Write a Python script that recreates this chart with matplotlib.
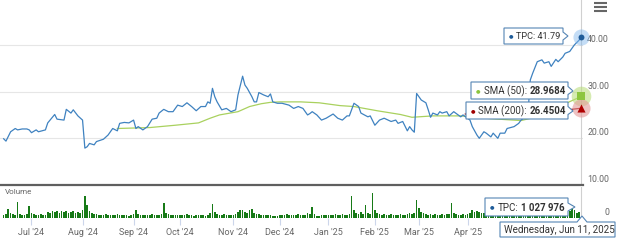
import matplotlib
matplotlib.use('Agg')
import matplotlib.pyplot as plt
import pandas as pd
from matplotlib.patches import Polygon

plt.rcParams['font.family'] = ['Roboto', 'DejaVu Sans']

W, H = 620, 243

# market holidays (no trading day on the ordinal axis)
holidays = ['2024-06-19', '2024-07-04', '2024-09-02', '2024-11-28', '2024-12-25',
            '2025-01-01', '2025-01-09', '2025-01-20', '2025-02-17', '2025-04-18',
            '2025-05-26']

# TPC close
price_points = [
    ('2024-06-12', 19.9), ('2024-06-13', 19.4), ('2024-06-17', 21.4), ('2024-06-20', 22.1),
    ('2024-06-21', 21.8), ('2024-06-25', 22.0), ('2024-06-27', 22.0), ('2024-06-28', 21.8),
    ('2024-07-01', 21.2), ('2024-07-03', 21.8), ('2024-07-05', 21.4), ('2024-07-10', 21.8),
    ('2024-07-11', 23.3), ('2024-07-16', 25.1), ('2024-07-17', 24.1), ('2024-07-22', 23.9),
    ('2024-07-23', 26.2), ('2024-07-25', 25.4), ('2024-07-26', 26.1), ('2024-07-30', 24.8),
    ('2024-08-01', 23.9), ('2024-08-02', 17.9), ('2024-08-05', 18.2), ('2024-08-06', 18.9),
    ('2024-08-08', 18.6), ('2024-08-09', 19.3), ('2024-08-14', 19.8), ('2024-08-16', 20.7),
    ('2024-08-20', 22.1), ('2024-08-22', 21.6), ('2024-08-23', 23.2), ('2024-08-27', 23.4),
    ('2024-08-29', 23.3),
    ('2024-09-03', 23.9), ('2024-09-04', 22.1), ('2024-09-05', 22.5), ('2024-09-09', 21.8),
    ('2024-09-11', 22.5), ('2024-09-13', 24.1), ('2024-09-17', 24.3), ('2024-09-18', 25.4),
    ('2024-09-20', 26.2), ('2024-09-24', 25.7), ('2024-09-26', 25.7), ('2024-09-30', 27.1),
    ('2024-10-02', 26.8), ('2024-10-04', 27.6), ('2024-10-08', 26.8), ('2024-10-10', 25.9),
    ('2024-10-14', 26.8), ('2024-10-16', 26.8), ('2024-10-17', 27.8), ('2024-10-18', 27.5),
    ('2024-10-21', 30.7), ('2024-10-22', 28.9), ('2024-10-23', 27.8), ('2024-10-25', 26.1),
    ('2024-10-29', 26.4), ('2024-10-31', 25.7),
    ('2024-11-04', 26.1), ('2024-11-05', 29.3), ('2024-11-07', 33.3), ('2024-11-08', 31.4),
    ('2024-11-11', 30.7), ('2024-11-13', 28.9), ('2024-11-14', 27.8), ('2024-11-15', 27.8),
    ('2024-11-18', 29.8), ('2024-11-20', 29.3), ('2024-11-22', 28.9), ('2024-11-25', 29.5),
    ('2024-11-26', 27.8), ('2024-11-29', 27.5),
    ('2024-12-03', 27.5), ('2024-12-06', 27.1), ('2024-12-10', 26.4), ('2024-12-12', 26.8),
    ('2024-12-16', 26.4), ('2024-12-18', 25.0), ('2024-12-19', 25.3), ('2024-12-20', 25.7),
    ('2024-12-24', 25.0), ('2024-12-27', 23.9), ('2024-12-31', 24.3),
    ('2025-01-06', 25.2), ('2025-01-08', 24.3), ('2025-01-13', 23.9), ('2025-01-15', 24.8),
    ('2025-01-16', 24.8), ('2025-01-21', 27.5), ('2025-01-23', 26.8), ('2025-01-24', 25.4),
    ('2025-01-29', 24.6), ('2025-01-30', 24.8),
    ('2025-02-03', 22.8), ('2025-02-05', 23.9), ('2025-02-07', 24.3), ('2025-02-12', 23.6),
    ('2025-02-14', 23.9), ('2025-02-18', 23.2), ('2025-02-20', 23.6), ('2025-02-24', 21.6),
    ('2025-02-25', 22.5), ('2025-02-26', 21.8), ('2025-02-27', 21.3), ('2025-02-28', 29.6),
    ('2025-03-04', 28.2), ('2025-03-06', 27.6), ('2025-03-07', 26.1), ('2025-03-10', 24.5),
    ('2025-03-11', 25.4), ('2025-03-13', 25.0), ('2025-03-14', 25.7), ('2025-03-17', 25.4),
    ('2025-03-19', 25.7), ('2025-03-20', 24.8), ('2025-03-24', 25.7), ('2025-03-27', 24.6),
    ('2025-03-28', 25.0),
    ('2025-04-02', 23.9), ('2025-04-03', 22.5), ('2025-04-07', 20.7), ('2025-04-08', 20.0),
    ('2025-04-10', 21.4), ('2025-04-11', 21.1), ('2025-04-15', 20.3), ('2025-04-16', 21.1),
    ('2025-04-21', 20.0), ('2025-04-22', 21.1), ('2025-04-24', 21.1), ('2025-04-25', 22.1),
    ('2025-04-30', 22.5),
    ('2025-05-02', 23.2), ('2025-05-05', 23.9), ('2025-05-07', 24.6), ('2025-05-08', 25.4),
    ('2025-05-09', 32.5), ('2025-05-12', 33.9), ('2025-05-14', 36.4), ('2025-05-16', 36.8),
    ('2025-05-19', 36.1), ('2025-05-21', 36.4), ('2025-05-22', 35.4), ('2025-05-27', 36.9),
    ('2025-05-28', 36.4), ('2025-05-30', 37.4),
    ('2025-06-02', 38.2), ('2025-06-04', 38.6), ('2025-06-05', 39.3), ('2025-06-06', 40.0),
    ('2025-06-10', 41.0), ('2025-06-11', 41.79),
]

sma50_points = [
    ('2024-08-22', 22.1), ('2024-09-12', 22.3), ('2024-09-27', 22.8), ('2024-10-11', 23.3),
    ('2024-10-18', 24.3), ('2024-10-24', 25.0), ('2024-11-05', 25.7), ('2024-11-12', 26.8),
    ('2024-11-19', 27.4), ('2024-11-25', 27.7), ('2024-12-02', 27.8), ('2024-12-13', 27.8),
    ('2024-12-26', 27.6), ('2025-01-10', 27.0), ('2025-01-21', 26.8), ('2025-02-04', 25.9),
    ('2025-02-19', 25.1), ('2025-02-26', 24.5), ('2025-03-11', 24.8), ('2025-03-27', 24.8),
    ('2025-04-15', 24.2), ('2025-05-05', 23.8), ('2025-05-13', 24.5), ('2025-05-21', 25.8),
    ('2025-06-02', 27.4), ('2025-06-11', 28.9684),
]

sma200_points = [
    ('2025-03-31', 25.2), ('2025-04-15', 25.1), ('2025-04-30', 25.0), ('2025-05-14', 25.3),
    ('2025-05-29', 25.9), ('2025-06-11', 26.4504),
]

# daily volume in millions, one per trading day from 2024-06-12
volume = [
    0.3, 0.4, 0.9, 0.5, 0.4, 0.35, 1.6, 0.4, 0.3, 0.35,
    0.4, 1.2, 0.5, 0.4, 0.3, 0.3, 0.4, 0.35, 0.3, 0.6,
    0.5, 0.7, 0.6, 0.7, 0.5, 0.7, 0.6, 0.7, 0.5, 0.6,
    0.7, 0.5, 0.6, 0.5, 0.8, 2.2, 1.3, 0.7, 0.5, 0.4,
    0.4, 0.35, 0.3, 0.35, 0.4, 0.3, 0.3, 0.35, 0.3, 0.4,
    0.3, 0.3, 0.35, 0.3, 0.25, 0.3, 0.4, 0.8, 0.4, 0.3,
    0.3, 0.3, 0.35, 0.3, 0.4, 0.35, 0.3, 0.3, 0.4, 1.5,
    0.5, 0.4, 0.3, 0.35, 0.3, 0.35, 0.3, 0.35, 0.3, 0.4,
    0.3, 0.3, 0.25, 0.3, 0.35, 0.3, 0.3, 0.25, 0.3, 0.5,
    1.4, 0.6, 0.4, 0.35, 0.3, 0.4, 0.35, 0.3, 0.3, 0.3,
    0.4, 0.6, 0.8, 0.8, 0.6, 0.5, 0.8, 0.9, 0.5, 0.4,
    0.4, 0.35, 0.3, 0.35, 0.3, 0.3, 0.25, 0.2, 0.2, 0.3,
    0.35, 0.3, 0.4, 0.3, 0.3, 0.35, 0.3, 0.4, 0.3, 0.35,
    0.3, 0.5, 0.4, 1.1, 0.4, 0.2, 0.25, 0.3, 0.3, 0.35,
    0.3, 0.35, 0.3, 0.4, 0.35, 0.3, 0.4, 0.3, 0.35, 0.4,
    2.2, 0.8, 0.5, 0.4, 0.6, 0.4, 1.3, 0.5, 0.4, 2.5,
    0.8, 0.5, 0.4, 0.35, 0.4, 0.3, 0.35, 0.4, 0.3, 0.35,
    0.3, 0.4, 0.35, 0.3, 0.4, 0.5, 0.4, 0.5, 1.8, 1.0,
    0.6, 0.5, 0.4, 0.35, 0.4, 0.3, 0.4, 0.35, 0.3, 0.4,
    0.35, 0.4, 0.4, 1.5, 0.5, 0.4, 0.3, 0.35, 0.4, 0.3,
    0.4, 0.5, 0.8, 0.6, 0.7, 0.6, 0.5, 0.5, 0.4, 0.5,
    0.4, 0.5, 0.4, 0.4, 0.5, 0.4, 0.4, 0.5, 0.4, 0.4,
    0.5, 0.5, 0.6, 0.6, 0.7, 0.6, 0.8, 1.9, 1.5, 1.0,
    0.9, 0.8, 0.7, 0.8, 0.7, 0.6, 0.7, 0.8, 0.6, 0.7,
    0.6, 0.8, 0.7, 0.6, 0.7, 1.3, 0.8, 0.5, 0.6, 1.027976,
]

price_ticks = [10, 20, 30, 40]
# May/Jun labels sit under the date tooltip in the original, so only these show
first_month, last_month = '2024-07', '2025-04'

# ordinal (trading day) axis like the original
days = pd.bdate_range('2024-06-12', '2025-06-11')
days = days[~days.isin(pd.to_datetime(holidays))]


def series(points):
    d, v = zip(*points)
    return days.get_indexer(pd.to_datetime(list(d))), list(v)


px, py = series(price_points)
s50x, s50y = series(sma50_points)
s200x, s200y = series(sma200_points)
vol_x = list(range(len(days)))[-len(volume):]

firsts = pd.Series(range(len(days)), index=days).groupby(days.to_period('M')).first()
firsts = firsts[(firsts.index >= pd.Period(first_month, 'M')) &
                (firsts.index <= pd.Period(last_month, 'M'))]
month_pos = list(firsts.values)
month_lab = [p.strftime("%b '%y") for p in firsts.index]

fig = plt.figure(figsize=(W / 100, H / 100), dpi=100)


def frac(x0, y0, x1, y1):
    return [x0 / W, 1 - y1 / H, (x1 - x0) / W, (y1 - y0) / H]


xlim = (-3.66 / 2.32, (583 - 3.66) / 2.32)
grey = '#666666'

# price panel
ax = fig.add_axes(frac(0, 0, 583, 185))
ax.set_xlim(*xlim)
ax.set_ylim(10, 10 + 185 / 4.67)
ax.set_yticks(price_ticks[1:])
ax.grid(axis='y', color='#e6e6e6', lw=0.8)
ax.tick_params(left=False, bottom=False, labelleft=False, labelbottom=False)
for s in ['top', 'left', 'right']:
    ax.spines[s].set_visible(False)
ax.spines['bottom'].set_color('#5f5f5f')
ax.spines['bottom'].set_linewidth(1.6)
for v in price_ticks:
    ax.annotate(f'{v:.2f}', xy=(1, v), xycoords=('axes fraction', 'data'),
                xytext=(26, 1), textcoords='offset pixels', ha='right', va='bottom',
                fontsize=6.3, color=grey, annotation_clip=False)

last = len(days) - 1
ax.axvline(last, color='#d0d0d0', lw=0.8)
ax.plot(s50x, s50y, color='#a9d15e', lw=0.9)
ax.plot(s200x, s200y, color='#a00000', lw=0.9)
ax.plot(px, py, color='#3f82c0', lw=0.9)

ax.scatter([last], [py[-1]], s=135, color='#7cb5ec', alpha=0.45, lw=0, clip_on=False, zorder=5)
ax.scatter([last], [py[-1]], s=18, color='#1f5c99', lw=0, clip_on=False, zorder=6)
ax.scatter([last], [s50y[-1]], s=200, color='#b5dc74', alpha=0.55, lw=0, clip_on=False, zorder=5)
ax.scatter([last], [s50y[-1]], s=38, marker='s', color='#8cc63e', lw=0, clip_on=False, zorder=6)
ax.scatter([last], [s200y[-1]], s=170, color='#e49a9a', alpha=0.6, lw=0, clip_on=False, zorder=5)
ax.scatter([last], [s200y[-1]], s=34, marker='^', color='#b00000', lw=0, clip_on=False, zorder=6)

# volume panel
axv = fig.add_axes(frac(0, 187, 583, 218))
axv.set_xlim(*xlim)
axv.set_ylim(0, 3.1)
axv.bar(vol_x, volume, width=0.7, color='#177a17', lw=0)
axv.axvline(last, color='#d0d0d0', lw=0.8)
for s in axv.spines.values():
    s.set_visible(False)
axv.set_yticks([])
axv.set_xticks(month_pos)
axv.set_xticklabels(month_lab)
axv.tick_params(axis='x', length=5, color='#ccd6eb', labelsize=6.5, labelcolor=grey, pad=2.5)
axv.annotate('0', xy=(1, 0), xycoords='axes fraction', xytext=(26, 1),
             textcoords='offset pixels', ha='right', va='bottom', fontsize=6.3, color=grey,
             annotation_clip=False)
axv.annotate('Volume', xy=(0, 1), xycoords='axes fraction', xytext=(5, -5),
             textcoords='offset pixels', ha='left', va='center', fontsize=5.8, color=grey)

# tooltips drawn in pixel space on top
ov = fig.add_axes([0, 0, 1, 1], zorder=10)
ov.set_xlim(0, W)
ov.set_ylim(H, 0)
ov.axis('off')
renderer = fig.canvas.get_renderer()


def callout(x0, x1, y0, y1, tip, parts, dot=None, notch_top=False, size=7):
    ym = (y0 + y1) / 2
    if notch_top:
        pts = [(x0, y0), (tip[0] - 5, y0), tip, (tip[0] + 5, y0), (x1, y0), (x1, y1), (x0, y1)]
    else:
        pts = [(x0, y0), (x1, y0), (x1, ym - 4), tip, (x1, ym + 4), (x1, y1), (x0, y1)]
    ov.add_patch(Polygon(pts, closed=True, fc='white', ec='#5585b5', lw=0.8, zorder=20))
    x = x0 + 4.5
    if dot:
        ov.text(x, ym, '\u25cf', color=dot, fontsize=3.8, va='center', ha='left', zorder=21)
        x += 8
    for txt, bold in parts:
        t = ov.text(x, ym + 0.5, txt, fontsize=size, color='#333333',
                    fontweight='bold' if bold else 'normal', va='center', ha='left', zorder=21)
        x = t.get_window_extent(renderer).x1 + 2.5


callout(504, 563, 28, 44, (568, 36), [('TPC: 41.79', False)], dot='#1f5c99', size=6.6)
callout(471, 568, 82, 99, (573, 91), [('SMA (50):', False), ('28.9684', True)], dot='#8cc63e')
callout(466, 568, 102, 119, (573, 111), [('SMA (200):', False), ('26.4504', True)], dot='#a00000')
callout(485, 568, 198, 216, (575, 207), [('TPC:', False), ('1 027 976', True)], dot='#1f5c99')
callout(500, 615, 222, 237, (582, 216), [('Wednesday, Jun 11, 2025', False)], notch_top=True)

# menu icon
for y in [3.5, 7.5, 11.5]:
    ov.plot([594, 607], [y, y], color=grey, lw=1.5, solid_capstyle='butt')

fig.savefig('out.png', dpi=100)
